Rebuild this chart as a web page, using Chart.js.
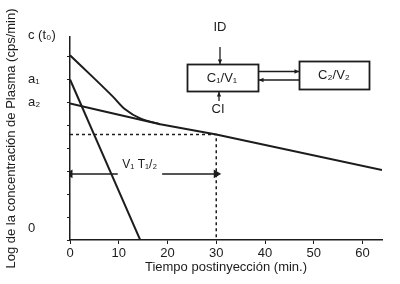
<!DOCTYPE html>
<html>
<head>
<meta charset="utf-8">
<script src="https://cdn.jsdelivr.net/npm/chart.js@4.4.1/dist/chart.umd.min.js"></script>
<style>
  html, body { margin: 0; padding: 0; background: #fff; }
  #wrap { width: 400px; height: 284px; position: relative; }
</style>
</head>
<body>
<div id="wrap"><canvas id="c"></canvas></div>
<script>
  // tiempo (min) / log concentración (unidades del eje)
  var fastT = [0, 14.4];
  var fastV = [7.0, 0];
  var slowT = [0, 6.2, 18.5, 30, 64];
  var slowV = [5.95, 5.65, 5.05, 4.6, 3.05];
  var totalT = [0, 4.7, 8.8, 11.3, 14.4, 18.5];
  var totalV = [8.05, 7.1, 6.25, 5.7, 5.3, 5.05];
  var halfT = 30, halfV = 4.6;
  var arrowV = 2.88;
  var arrowLeftT = [0, 9.8];
  var arrowRightT = [18.9, 30];
  var xTicks = [0, 10, 20, 30, 40, 50, 60];
  var yTicks = [0, 1, 2, 3, 4, 5, 6, 7, 8];
  var yLabels = ["c (t\u2080)", "a\u2081", "a\u2082", "0"];
  var yLabelVals = [8.9, 7.0, 6.0, 0.5];

  var INK = "#1c1c1c";
  var FONT = "'Liberation Sans', Arial, sans-serif";

  function pts(t, v) { return t.map(function (x, i) { return { x: x, y: v[i] }; }); }

  function arrow(ctx, x1, y1, x2, y2) {
    var a = Math.atan2(y2 - y1, x2 - x1), h = 5;
    ctx.beginPath(); ctx.moveTo(x1, y1); ctx.lineTo(x2, y2); ctx.stroke();
    ctx.beginPath();
    ctx.moveTo(x2, y2);
    ctx.lineTo(x2 - h * Math.cos(a - 0.45), y2 - h * Math.sin(a - 0.45));
    ctx.lineTo(x2 - h * Math.cos(a + 0.45), y2 - h * Math.sin(a + 0.45));
    ctx.closePath(); ctx.fill();
  }

  var extras = {
    id: "extras",
    afterDraw: function (chart) {
      var ctx = chart.ctx, xs = chart.scales.x, ys = chart.scales.y;
      ctx.save();
      ctx.fillStyle = INK; ctx.strokeStyle = INK;
      // etiquetas del eje Y
      ctx.font = "13px " + FONT; ctx.textAlign = "left"; ctx.textBaseline = "middle";
      yLabels.forEach(function (l, i) { ctx.fillText(l, 28, ys.getPixelForValue(yLabelVals[i])); });
      // V1 T1/2
      ctx.textAlign = "center";
      ctx.font = "12px " + FONT;
      ctx.fillText("V\u2081 T\u2081/\u2082", xs.getPixelForValue(14.3), ys.getPixelForValue(arrowV) - 9);
      // esquema de compartimentos
      ctx.lineWidth = 1.8;
      ctx.strokeRect(187.5, 64.5, 71, 27);
      ctx.strokeRect(299.5, 61.5, 70, 28);
      ctx.font = "13px " + FONT;
      ctx.fillText("C\u2081/V\u2081", 222, 78);
      ctx.fillText("C\u2082/V\u2082", 334, 75);
      ctx.fillText("ID", 220, 27);
      ctx.fillText("CI", 218, 109);
      ctx.lineWidth = 1.3;
      arrow(ctx, 220, 47, 220, 64);
      arrow(ctx, 219, 101, 219, 92);
      arrow(ctx, 259, 71.5, 299, 71.5);
      arrow(ctx, 299, 80, 259, 80);
      ctx.restore();
    }
  };

  var lineStyle = { showLine: true, borderColor: INK, backgroundColor: INK, borderWidth: 2, pointRadius: 0, tension: 0 };

  new Chart(document.getElementById("c"), {
    type: "scatter",
    data: {
      datasets: [
        Object.assign({}, lineStyle, { data: pts(totalT, totalV), tension: 0.35 }),
        Object.assign({}, lineStyle, { data: pts(slowT, slowV) }),
        Object.assign({}, lineStyle, { data: pts(fastT, fastV) }),
        Object.assign({}, lineStyle, { data: [{ x: 0, y: halfV }, { x: halfT, y: halfV }, { x: halfT, y: 0 }], borderWidth: 1.5, borderDash: [3, 3] }),
        Object.assign({}, lineStyle, { data: pts(arrowLeftT, [arrowV, arrowV]), borderWidth: 1.5, pointStyle: "triangle", pointRadius: [3.5, 0], rotation: -90 }),
        Object.assign({}, lineStyle, { data: pts(arrowRightT, [arrowV, arrowV]), borderWidth: 1.5, pointStyle: "triangle", pointRadius: [0, 3.5], rotation: 90 })
      ]
    },
    options: {
      responsive: true, maintainAspectRatio: false, animation: false,
      layout: { padding: { top: 37, right: 18, left: 0, bottom: 0 } },
      plugins: { legend: { display: false }, tooltip: { enabled: false } },
      scales: {
        x: {
          type: "linear", min: 0, max: 64,
          afterBuildTicks: function (s) { s.ticks = xTicks.map(function (v) { return { value: v }; }); },
          afterFit: function (s) { s.height = 44; },
          grid: { drawOnChartArea: false, tickLength: 4, color: INK },
          border: { color: INK, width: 1.5 },
          ticks: { color: INK, padding: 2, maxRotation: 0, font: { family: FONT, size: 13 } },
          title: { display: true, text: "Tiempo postinyección (min.)", color: INK, font: { family: FONT, size: 13 }, padding: { top: 0, bottom: 9 } }
        },
        y: {
          type: "linear", min: 0, max: 8.85,
          afterBuildTicks: function (s) { s.ticks = yTicks.map(function (v) { return { value: v }; }); },
          afterFit: function (s) { s.width = 70; },
          grid: { drawOnChartArea: false, tickLength: 3, color: INK },
          border: { color: INK, width: 1.5 },
          ticks: { display: false },
          title: { display: true, text: "Log de la concentración de Plasma (cps/min)", color: INK, font: { family: FONT, size: 13 }, padding: { top: 4, bottom: 0 } }
        }
      }
    },
    plugins: [extras]
  });
</script>
</body>
</html>
